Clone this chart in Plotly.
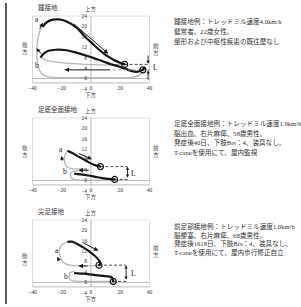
import plotly.graph_objects as go

W, H = 301, 307

# ---------------- data ----------------
x_ticks = [-40, -20, 0, 20, 40]
y_ticks = [-4, 0, 4, 8, 12, 16, 20, 24]

titles = ["踵接地", "足底全面接地", "尖足接地"]
notes = [
    ["踵接地例：トレッドミル速度4.0km/h", "健常者、22歳女性。", "整形および中枢性疾患の既往歴なし"],
    ["足底全面接地例：トレッドミル速度1.9km/h", "脳出血、右片麻痺、58歳男性。",
     "発症後40日、下肢Brs：4、装具なし。", "T-caneを使用にて、屋内監視"],
    ["前足部接地例：トレッドミル速度1.0km/h", "脳梗塞、右片麻痺、68歳男性。",
     "発症後1618日、下肢Brs：4、装具なし、", "T-caneを使用にて、屋内歩行修正自立"],
]

# panel 1 (heel strike)
p1_black_a_x = [-33, -30, -26, -22, -17, -10, -4, 0, 5, 10, 16, 23]
p1_black_a_y = [19.8, 21.6, 22.5, 22.6, 21.9, 19.5, 16.0, 13.9, 11.3, 9.0, 7.0, 5.4]
p1_black_b_x = [-34.5, -32, -29, -24, -18, -12, -4, 2, 8, 14, 19, 24, 28, 32, 35, 37]
p1_black_b_y = [8.0, 9.6, 10.6, 11.0, 10.9, 10.2, 8.9, 7.8, 6.6, 5.4, 4.6, 3.6, 2.8, 2.6, 3.3, 4.3]
p1_gray_out_x = [-33, -35, -36.5, -37, -36.5, -35, -32, -27, -15, 0, 15, 28, 33, 35.5]
p1_gray_out_y = [20.5, 18, 14, 10, 6, 3, 1.2, 0.5, 0.3, 0.3, 0.3, 0.4, 1.2, 3.0]
p1_gray_in_x = [-33.5, -30, -24, -15, -4, 8, 16, 23]
p1_gray_in_y = [7.8, 6.9, 6.3, 5.8, 5.4, 5.2, 5.2, 5.4]
p1_contact_x = [23, 35.5]
p1_contact_y = [5.4, 3.3]

# panel 2 (foot flat)
p2_black_a_x = [-16, -13, -10, -6, -2, 2, 6.5]
p2_black_a_y = [11.4, 10.6, 9.6, 8.4, 7.1, 6.0, 5.3]
p2_black_b_x = [-11.5, -7, -2, 3, 8, 12, 16.2]
p2_black_b_y = [2.6, 2.3, 1.9, 1.4, 0.9, 0.6, 0.4]
p2_gray_a_x = [-16, -17.5, -18, -17, -14, -8, -3]
p2_gray_a_y = [11.4, 10, 7.5, 5.5, 4.6, 4.4, 4.5]
p2_gray_b_x = [-8, -12.5, -14, -13.5, -11, -5, 5, 16]
p2_gray_b_y = [3.6, 3.5, 2.5, 1.0, 0.3, 0.1, 0.1, 0.3]
p2_contact_x = [6.5, 16.2]
p2_contact_y = [5.3, 0.4]

# panel 3 (toe contact)
p3_black_a_x = [-16, -13, -9, -5, -1, 2.5, 5, 6.3, 6.2, 5.5]
p3_black_a_y = [15.5, 15.6, 14.6, 13.3, 11.8, 10.2, 8.8, 7.6, 6.9, 6.6]
p3_black_b_x = [-11.5, -7, -2, 3, 8, 12, 14, 15, 15.2]
p3_black_b_y = [3.6, 3.4, 3.2, 2.8, 2.5, 2.3, 2.0, 1.0, 0.4]
p3_gray_a_x = [-16, -18.5, -21, -21.5, -20, -17, -12, -5, 2, 5.5]
p3_gray_a_y = [15.5, 15.0, 13.5, 11.0, 8.5, 7.0, 6.4, 6.3, 6.4, 6.6]
p3_gray_b_x = [-11, -14, -15, -14.5, -12, -5, 5, 13, 15]
p3_gray_b_y = [4.2, 3.8, 2.5, 1.2, 0.6, 0.4, 0.4, 0.4, 0.5]
p3_contact_x = [5.5, 15.2]
p3_contact_y = [6.6, 0.4]

panels = [
    dict(black=[(p1_black_a_x, p1_black_a_y), (p1_black_b_x, p1_black_b_y)],
         gray=[(p1_gray_out_x, p1_gray_out_y), (p1_gray_in_x, p1_gray_in_y)],
         cx=p1_contact_x, cy=p1_contact_y,
         a_lab=(-37, 22.6), b_lab=(-37, 5.0),
         a_arrow=((-35.5, 18.5), (-32.8, 21.3)), b_arrow=((-33.1, 8.9), (-37.2, 11.6)),
         main_arrow=((-12.7, 21.4), (11.8, 9.5)), back_arrow=((14, 3.3), (-18, 3.3)),
         lx=40, ltext=(44, 4.3), small=True,
         side_y=(11.6, 10.9), off=0),
    dict(black=[(p2_black_a_x, p2_black_a_y), (p2_black_b_x, p2_black_b_y)],
         gray=[(p2_gray_a_x, p2_gray_a_y), (p2_gray_b_x, p2_gray_b_y)],
         cx=p2_contact_x, cy=p2_contact_y,
         a_lab=(-20.6, 11.8), b_lab=(-17.5, 3.5),
         a_arrow=((-19.2, 7.0), (-20.2, 9.4)), b_arrow=None,
         main_arrow=((-9.3, 10.6), (0.7, 8.1)), back_arrow=((-0.5, 3.9), (-8.5, 3.9)),
         lx=25, ltext=(29, 2.8), small=False,
         side_y=(10.9, 11.2), off=104),
    dict(black=[(p3_black_a_x, p3_black_a_y), (p3_black_b_x, p3_black_b_y)],
         gray=[(p3_gray_a_x, p3_gray_a_y), (p3_gray_b_x, p3_gray_b_y)],
         cx=p3_contact_x, cy=p3_contact_y,
         a_lab=(-23.3, 12.1), b_lab=(-17.1, 2.2),
         a_arrow=((-21.6, 8.1), (-22.9, 9.8)), b_arrow=None,
         main_arrow=((-6, 15.4), (5.1, 12.1)), back_arrow=((-1.5, 6.3), (-8.5, 6.3)),
         lx=24, ltext=(29, 3.4), small=False,
         side_y=(8.6, 12.0), off=208),
]

# ---------------- figure ----------------
NUM = "Liberation Serif, Noto Sans CJK JP"
JP = "Noto Sans CJK JP"
BLACK = "#161616"
GRAY = "#b8b8b8"
FRAME = "#a8a8a8"
YLO = -1.7
PX_PER_X = 1.5
PX_PER_Y = 64 / 24

fig = go.Figure()
layout = dict(width=W, height=H, margin=dict(l=0, r=0, t=0, b=0),
              paper_bgcolor="white", plot_bgcolor="white", showlegend=False)
annotations = []
shapes = [dict(type="line", xref="paper", yref="paper", x0=2 / W, x1=2 / W, y0=0, y1=1,
               line=dict(color="#222", width=1.5))]

for i, p in enumerate(panels):
    n = "" if i == 0 else str(i + 1)
    xa, ya = "x" + n, "y" + n
    off = p["off"]
    top_px, bot_px = 13 + off, 87.67 + off
    ydom = [1 - bot_px / H, 1 - top_px / H]
    frame_bottom_px = 77 + off + (-YLO) * PX_PER_Y
    layout["xaxis" + n] = dict(domain=[29 / W, 149 / W], range=[-40, 40], anchor="free",
                               position=1 - (frame_bottom_px + 0.5) / H,
                               tickvals=x_ticks, ticks="", showgrid=False, zeroline=False,
                               showline=False, tickfont=dict(size=5.5, family=NUM, color="#333"),
                               fixedrange=True)
    layout["yaxis" + n] = dict(domain=ydom, range=[-4, 24], anchor="free",
                               position=89 / W, tickvals=y_ticks, ticks="", showgrid=False,
                               zeroline=False, showline=False, ticklabelstandoff=4,
                               tickfont=dict(size=5.5, family=NUM, color="#333"),
                               fixedrange=True)
    shapes.append(dict(type="rect", xref=xa, yref=ya, x0=-40, x1=40, y0=YLO, y1=24,
                       line=dict(color=FRAME, width=0.8), layer="below"))
    shapes.append(dict(type="line", xref=xa, yref=ya, x0=-40, x1=40, y0=0, y1=0,
                       line=dict(color=FRAME, width=0.8), layer="below"))
    shapes.append(dict(type="line", xref=xa, yref=ya, x0=0, x1=0, y0=YLO, y1=24,
                       line=dict(color=FRAME, width=0.8), layer="below"))

    for gx, gy in p["gray"]:
        fig.add_trace(go.Scatter(x=gx, y=gy, mode="lines", xaxis=xa, yaxis=ya,
                                 line=dict(color=GRAY, width=1.3, shape="spline"),
                                 hoverinfo="skip"))
    for bx, by in p["black"]:
        fig.add_trace(go.Scatter(x=bx, y=by, mode="lines", xaxis=xa, yaxis=ya,
                                 line=dict(color=BLACK, width=2.2, shape="spline"),
                                 hoverinfo="skip"))
    for cx, cy in zip(p["cx"], p["cy"]):
        fig.add_trace(go.Scatter(x=[cx, p["lx"]], y=[cy, cy], mode="lines", xaxis=xa, yaxis=ya,
                                 line=dict(color="#333", width=0.9, dash="3px,2px"),
                                 hoverinfo="skip"))
    if i == 0:
        fig.add_trace(go.Scatter(x=[15, 34], y=[p["cy"][1], p["cy"][1]], mode="lines",
                                 xaxis=xa, yaxis=ya,
                                 line=dict(color="#999", width=0.9, dash="3px,2px"),
                                 hoverinfo="skip"))
    fig.add_trace(go.Scatter(x=p["cx"], y=p["cy"], mode="markers", xaxis=xa, yaxis=ya,
                             marker=dict(symbol="circle-open-dot", size=6, color=BLACK,
                                         line=dict(width=1.2, color=BLACK)),
                             hoverinfo="skip"))

    def arrow(tail, head, w=0.9, size=0.8, side="end"):
        annotations.append(dict(x=head[0], y=head[1], ax=tail[0], ay=tail[1], xref=xa, yref=ya,
                                axref=xa, ayref=ya, showarrow=True, arrowhead=2,
                                arrowsize=size, arrowwidth=w, arrowcolor=BLACK, text="",
                                arrowside=side, standoff=0, startstandoff=0))

    arrow(*p["main_arrow"], w=1.0, size=0.9)
    arrow(*p["back_arrow"], w=1.0, size=0.9)
    arrow(*p["a_arrow"], w=1.0, size=0.8)
    if p["b_arrow"]:
        arrow(*p["b_arrow"], w=1.0, size=0.8)
    if p["small"]:
        arrow((p["lx"] - 1, 9.4), (p["lx"] - 1, p["cy"][0] + 0.2), w=0.9, size=0.7)
        arrow((p["lx"] - 1, -1.1), (p["lx"] - 1, p["cy"][1] - 0.2), w=0.9, size=0.7)
    else:
        arrow((p["lx"], p["cy"][1] + 0.1), (p["lx"], p["cy"][0] - 0.1), w=0.9, size=0.7,
              side="end+start")

    # labels placed in paper space (outside the axis ranges)
    def label(x, y, text, size=6.5, family=NUM, xanchor="center", color="#222"):
        px = 89 + PX_PER_X * x
        py = 77 + off - PX_PER_Y * y
        annotations.append(dict(x=px / W, y=1 - py / H, xref="paper", yref="paper",
                                text=text, showarrow=False, xanchor=xanchor, yanchor="middle",
                                font=dict(size=size, family=family, color=color)))

    label(*p["a_lab"], "a", size=7.5)
    label(*p["b_lab"], "b", size=7.5)
    label(*p["ltext"], "L", size=7.5)
    label(0, 26.7, "上方", size=5.5, family=JP, color="#444")
    label(0, -6.5, "下方", size=5.5, family=JP, color="#444")
    label(-44.7, p["side_y"][0], "後<br>方", size=5.5, family=JP, color="#444")
    label(44.5, p["side_y"][1], "前<br>方", size=5.5, family=JP, color="#444")
    label(-37.8, 27.4, titles[i], size=6.5, family=JP, xanchor="left", color="#333")

    note_top = [19, 123, 228][i]
    step = [10, 9.8, 8.8][i]
    for k, line in enumerate(notes[i]):
        annotations.append(dict(x=172 / W, y=1 - (note_top + k * step) / H, xref="paper",
                                yref="paper", text=line, showarrow=False, xanchor="left",
                                yanchor="middle",
                                font=dict(size=6.6, family=NUM, color="#333")))

layout["annotations"] = annotations
layout["shapes"] = shapes
fig.update_layout(**layout)
fig.write_html("out.html")
